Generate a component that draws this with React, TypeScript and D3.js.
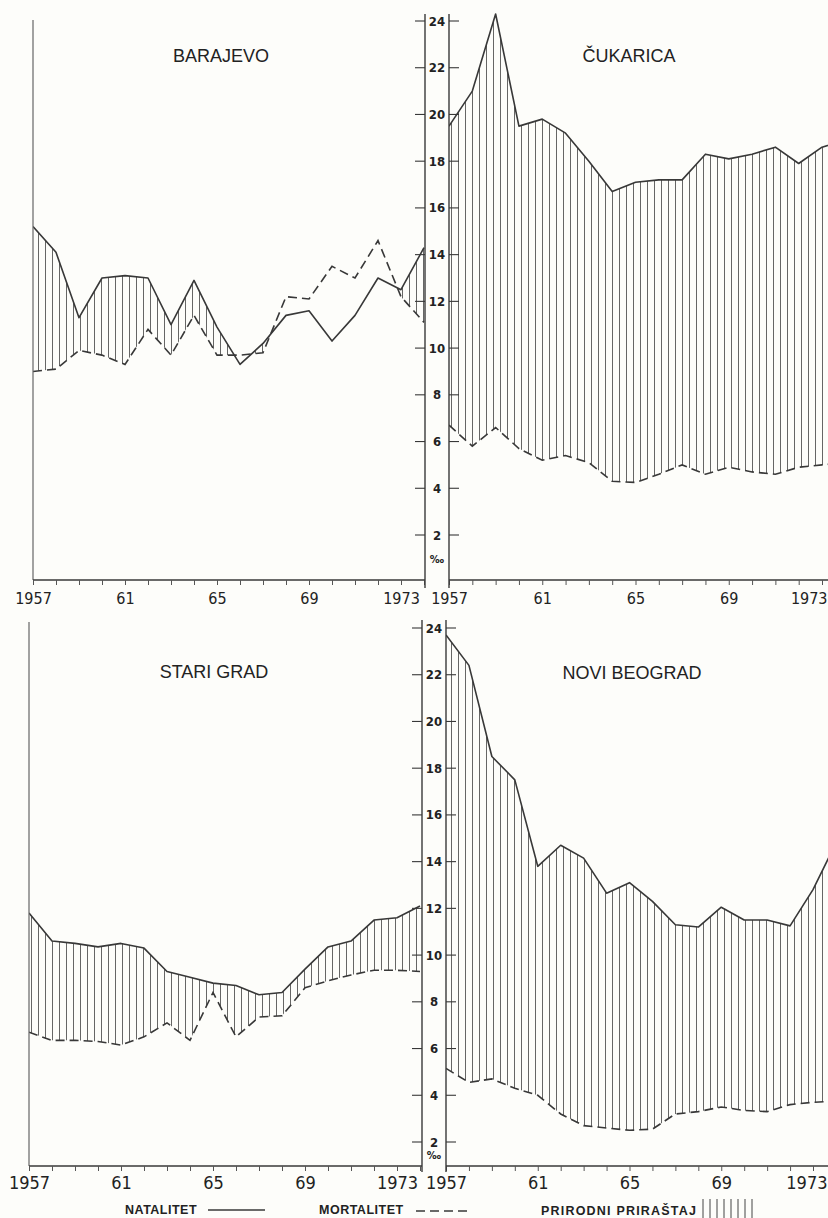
import React, { useEffect, useRef } from 'react';
import * as d3 from 'd3';

// years on the time axis, labels only on a few of them
const years = [1957, 1958, 1959, 1960, 1961, 1962, 1963, 1964, 1965, 1966, 1967, 1968, 1969, 1970, 1971, 1972, 1973, 1974];
const yearLabels: Record<number, string> = { 1957: '1957', 1961: '61', 1965: '65', 1969: '69', 1973: '1973' };
const rateTicks = [2, 4, 6, 8, 10, 12, 14, 16, 18, 20, 22, 24];

// rates in promille
const barajevoNatalitet = [15.2, 14.1, 11.3, 13.0, 13.1, 13.0, 11.0, 12.9, 10.9, 9.3, 10.2, 11.4, 11.6, 10.3, 11.4, 13.0, 12.5, 14.3];
const barajevoMortalitet = [9.0, 9.1, 9.9, 9.7, 9.3, 10.8, 9.7, 11.4, 9.7, 9.7, 9.8, 12.2, 12.1, 13.5, 13.0, 14.6, 12.2, 11.1];

const cukaricaNatalitet = [19.5, 21.0, 24.3, 19.5, 19.8, 19.2, 18.0, 16.7, 17.1, 17.2, 17.2, 18.3, 18.1, 18.3, 18.6, 17.9, 18.6, 18.9];
const cukaricaMortalitet = [6.7, 5.8, 6.6, 5.7, 5.2, 5.4, 5.1, 4.3, 4.25, 4.6, 5.0, 4.6, 4.9, 4.7, 4.6, 4.9, 5.0, 5.1];

const stariGradNatalitet = [11.8, 10.6, 10.5, 10.35, 10.5, 10.3, 9.3, 9.05, 8.8, 8.7, 8.3, 8.4, 9.4, 10.35, 10.6, 11.5, 11.6, 12.1];
const stariGradMortalitet = [6.7, 6.35, 6.35, 6.3, 6.15, 6.5, 7.1, 6.35, 8.4, 6.5, 7.35, 7.4, 8.6, 8.9, 9.15, 9.35, 9.35, 9.3];

const noviBeogradNatalitet = [23.7, 22.4, 18.5, 17.5, 13.8, 14.7, 14.15, 12.65, 13.1, 12.3, 11.3, 11.2, 12.05, 11.5, 11.5, 11.25, 12.8, 14.8];
const noviBeogradMortalitet = [5.15, 4.55, 4.7, 4.3, 4.0, 3.2, 2.7, 2.6, 2.5, 2.55, 3.2, 3.3, 3.5, 3.35, 3.3, 3.6, 3.7, 3.75];

const W = 828;
const H = 1218;
const INK = '#383838';
const FONT = '"Liberation Sans", Arial, sans-serif';
const NARROW = '"Liberation Sans Narrow", "DejaVu Sans Condensed", "Liberation Sans", sans-serif';

interface Row {
  y: d3.ScaleLinear<number, number>
  base: number
  outer: number
  inner: number
  top: number
  bottom: number
  labelX: number
  permilleY: number
  yearSize: number
}

interface Panel {
  title: string
  nat: number[]
  mort: number[]
  row: number
  left: number
  right: number
  x1973: number
  titleX: number
  titleY: number
  lineTop: number
}

const rows: Row[] = [
  { y: d3.scaleLinear().domain([2, 24]).range([535, 21]), base: 580, outer: 425, inner: 449, top: 14, bottom: 588, labelX: 437, permilleY: 563, yearSize: 16 },
  { y: d3.scaleLinear().domain([2, 24]).range([1142, 628]), base: 1166, outer: 422, inner: 446, top: 620, bottom: 1172, labelX: 434, permilleY: 1159, yearSize: 18 },
];

const panels: Panel[] = [
  { title: 'BARAJEVO', nat: barajevoNatalitet, mort: barajevoMortalitet, row: 0, left: 33, right: 425, x1973: 401, titleX: 221, titleY: 62, lineTop: 20 },
  { title: 'ČUKARICA', nat: cukaricaNatalitet, mort: cukaricaMortalitet, row: 0, left: 449, right: 828, x1973: 822, titleX: 629, titleY: 62, lineTop: 14 },
  { title: 'STARI GRAD', nat: stariGradNatalitet, mort: stariGradMortalitet, row: 1, left: 29, right: 422, x1973: 397, titleX: 214, titleY: 678, lineTop: 622 },
  { title: 'NOVI BEOGRAD', nat: noviBeogradNatalitet, mort: noviBeogradMortalitet, row: 1, left: 446, right: 828, x1973: 813, titleX: 632, titleY: 679, lineTop: 620 },
];

const App = () => {
  const ref = useRef<SVGSVGElement>(null);

  useEffect(() => {
    draw()
  }, [])

  const draw = () => {
    const svg = d3.select(ref.current)
    svg.selectAll('*').remove()

    const defs = svg.append('defs')
    const pattern = defs.append('pattern')
      .attr('id', 'hatch')
      .attr('patternUnits', 'userSpaceOnUse')
      .attr('width', 7)
      .attr('height', 20)
    pattern.append('line')
      .attr('x1', 3.5).attr('x2', 3.5)
      .attr('y1', 0).attr('y2', 20)
      .attr('stroke', '#555')
      .attr('stroke-width', 0.9)

    svg.append('rect').attr('width', W).attr('height', H).attr('fill', '#fdfdfa')

    panels.forEach((p, i) => {
      const row = rows[p.row]
      const y = row.y
      const x = d3.scaleLinear().domain([1957, 1973]).range([p.left, p.x1973])
      const data = years.map((yr, k) => ({ yr, n: p.nat[k], m: p.mort[k] }))

      defs.append('clipPath').attr('id', `panel-${i}`)
        .append('rect')
        .attr('x', p.left).attr('y', 0)
        .attr('width', p.right - p.left).attr('height', H)

      // region above the mortality line -> hatch only where natality is higher
      const aboveMort = d3.area<typeof data[0]>()
        .x(d => x(d.yr))
        .y0(0)
        .y1(d => y(d.m))
      defs.append('clipPath').attr('id', `mort-${i}`)
        .append('path')
        .attr('d', aboveMort(data))

      const g = svg.append('g').attr('clip-path', `url(#panel-${i})`)

      const belowNat = d3.area<typeof data[0]>()
        .x(d => x(d.yr))
        .y0(row.base)
        .y1(d => y(d.n))
      g.append('path')
        .attr('d', belowNat(data))
        .attr('fill', 'url(#hatch)')
        .attr('clip-path', `url(#mort-${i})`)

      const natLine = d3.line<typeof data[0]>().x(d => x(d.yr)).y(d => y(d.n))
      const mortLine = d3.line<typeof data[0]>().x(d => x(d.yr)).y(d => y(d.m))

      g.append('path')
        .attr('d', mortLine(data))
        .attr('fill', 'none')
        .attr('stroke', INK)
        .attr('stroke-width', 1.6)
        .attr('stroke-dasharray', '9,5')

      g.append('path')
        .attr('d', natLine(data))
        .attr('fill', 'none')
        .attr('stroke', INK)
        .attr('stroke-width', 1.6)
        .attr('stroke-linejoin', 'round')

      // left frame line of the outer panels
      if (p.left < 100) {
        svg.append('line')
          .attr('x1', p.left).attr('x2', p.left)
          .attr('y1', p.lineTop).attr('y2', row.base)
          .attr('stroke', '#666').attr('stroke-width', 1.2)
      }

      // time axis
      svg.append('line')
        .attr('x1', p.left).attr('x2', p.right)
        .attr('y1', row.base).attr('y2', row.base)
        .attr('stroke', INK).attr('stroke-width', 1.4)

      const axis = svg.append('g')
        .attr('transform', `translate(0,${row.base})`)
        .call(
          d3.axisBottom(x)
            .tickValues(years.filter(yr => x(yr) <= p.right + 1))
            .tickSize(5)
            .tickPadding(row.yearSize === 16 ? 8 : 5)
            .tickFormat(d => yearLabels[d as number] ?? '')
        )
      axis.select('.domain').remove()
      axis.selectAll('.tick line').attr('stroke', '#555').attr('stroke-width', 1)
      axis.selectAll<SVGTextElement, number>('.tick text')
        .attr('fill', '#222')
        .style('font-family', NARROW)
        .style('font-size', `${row.yearSize}px`)
        .each(function (d) {
          // keep the last label inside the page edge
          const len = this.getComputedTextLength()
          if (x(d) + len / 2 > W - 1) {
            d3.select(this)
              .attr('text-anchor', 'end')
              .attr('x', W - 1 - x(d))
          }
        })

      svg.append('text')
        .attr('x', p.titleX)
        .attr('y', p.titleY)
        .attr('text-anchor', 'middle')
        .attr('fill', '#222')
        .style('font-family', FONT)
        .style('font-size', '18px')
        .text(p.title)
    })

    // shared rate axis between the columns
    rows.forEach(row => {
      const g = svg.append('g')
      ;[row.outer, row.inner].forEach(xx => {
        g.append('line')
          .attr('x1', xx).attr('x2', xx)
          .attr('y1', row.top).attr('y2', row.bottom)
          .attr('stroke', INK).attr('stroke-width', 1.4)
      })
      rateTicks.forEach(v => {
        g.append('line')
          .attr('x1', row.outer - 10).attr('x2', row.outer)
          .attr('y1', row.y(v)).attr('y2', row.y(v))
          .attr('stroke', INK).attr('stroke-width', 1.1)
        g.append('line')
          .attr('x1', row.inner).attr('x2', row.inner + 10)
          .attr('y1', row.y(v)).attr('y2', row.y(v))
          .attr('stroke', INK).attr('stroke-width', 1.1)
        g.append('text')
          .attr('x', row.labelX)
          .attr('y', row.y(v) + 4.5)
          .attr('text-anchor', 'middle')
          .attr('fill', '#222')
          .style('font-family', NARROW)
          .style('font-weight', 'bold')
          .style('font-size', '13px')
          .text(v)
      })
      g.append('text')
        .attr('x', row.labelX)
        .attr('y', row.permilleY)
        .attr('text-anchor', 'middle')
        .attr('fill', '#222')
        .style('font-family', NARROW)
        .style('font-weight', 'bold')
        .style('font-size', '11px')
        .text('‰')
    })

    // legend
    const legend = svg.append('g')
      .style('font-family', FONT)
      .style('font-weight', 'bold')
      .style('font-size', '12.5px')
      .attr('fill', '#222')
    legend.append('text').attr('x', 125).attr('y', 1214).style('letter-spacing', '0.5px').text('NATALITET')
    legend.append('line')
      .attr('x1', 208).attr('x2', 265).attr('y1', 1210).attr('y2', 1210)
      .attr('stroke', INK).attr('stroke-width', 1.5)
    legend.append('text').attr('x', 319).attr('y', 1214).style('letter-spacing', '0.5px').text('MORTALITET')
    legend.append('line')
      .attr('x1', 416).attr('x2', 468).attr('y1', 1211).attr('y2', 1211)
      .attr('stroke', INK).attr('stroke-width', 1.5)
      .attr('stroke-dasharray', '9,5')
    legend.append('text').attr('x', 541).attr('y', 1215).style('letter-spacing', '1.2px').text('PRIRODNI PRIRAŠTAJ')
    d3.range(8).forEach(k => {
      legend.append('line')
        .attr('x1', 703 + k * 7).attr('x2', 703 + k * 7)
        .attr('y1', 1199).attr('y2', 1218)
        .attr('stroke', '#444').attr('stroke-width', 1)
    })
  }

  return (
    <svg
      ref={ref}
      width={W}
      height={H}
      style={{ position: 'absolute', left: 0, top: 0, display: 'block' }}
    />
  )
}

export default App
